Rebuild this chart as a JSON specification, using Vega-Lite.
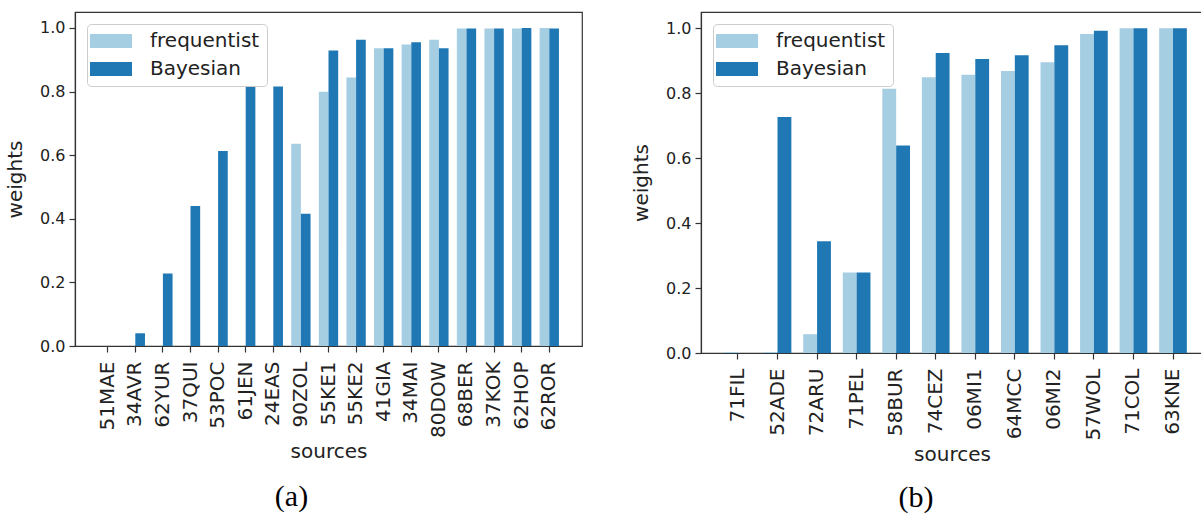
{
  "$schema": "https://vega.github.io/schema/vega-lite/v6.json",
  "background": "white",
  "padding": {"left": 4, "top": 11, "right": 0, "bottom": 0},
  "bounds": "flush",
  "spacing": 119,
  "config": {
    "view": {"stroke": "#333333", "strokeWidth": 1.2},
    "axis": {
      "domainColor": "#333333", "domainWidth": 1.2, "tickColor": "#333333", "tickWidth": 1.2,
      "labelColor": "#222222", "titleColor": "#222222",
      "labelFont": "DejaVu Sans", "titleFont": "DejaVu Sans", "titleFontWeight": "normal",
      "grid": false, "tickSize": 6
    },
    "legend": {"labelFont": "DejaVu Sans"},
    "title": {"font": "Liberation Serif", "fontWeight": "normal", "color": "#000000"}
  },
  "datasets": {
    "a": [
      {"source": "51MAE", "method": "frequentist", "weight": 0},
      {"source": "51MAE", "method": "Bayesian", "weight": 0},
      {"source": "34AVR", "method": "frequentist", "weight": 0},
      {"source": "34AVR", "method": "Bayesian", "weight": 0.04},
      {"source": "62YUR", "method": "frequentist", "weight": 0},
      {"source": "62YUR", "method": "Bayesian", "weight": 0.228},
      {"source": "37QUI", "method": "frequentist", "weight": 0},
      {"source": "37QUI", "method": "Bayesian", "weight": 0.44},
      {"source": "53POC", "method": "frequentist", "weight": 0},
      {"source": "53POC", "method": "Bayesian", "weight": 0.613},
      {"source": "61JEN", "method": "frequentist", "weight": 0},
      {"source": "61JEN", "method": "Bayesian", "weight": 0.814},
      {"source": "24EAS", "method": "frequentist", "weight": 0},
      {"source": "24EAS", "method": "Bayesian", "weight": 0.816},
      {"source": "90ZOL", "method": "frequentist", "weight": 0.636},
      {"source": "90ZOL", "method": "Bayesian", "weight": 0.416},
      {"source": "55KE1", "method": "frequentist", "weight": 0.799},
      {"source": "55KE1", "method": "Bayesian", "weight": 0.929},
      {"source": "55KE2", "method": "frequentist", "weight": 0.844},
      {"source": "55KE2", "method": "Bayesian", "weight": 0.963},
      {"source": "41GIA", "method": "frequentist", "weight": 0.936},
      {"source": "41GIA", "method": "Bayesian", "weight": 0.936},
      {"source": "34MAI", "method": "frequentist", "weight": 0.948},
      {"source": "34MAI", "method": "Bayesian", "weight": 0.955},
      {"source": "80DOW", "method": "frequentist", "weight": 0.963},
      {"source": "80DOW", "method": "Bayesian", "weight": 0.936},
      {"source": "68BER", "method": "frequentist", "weight": 0.998},
      {"source": "68BER", "method": "Bayesian", "weight": 0.998},
      {"source": "37KOK", "method": "frequentist", "weight": 0.998},
      {"source": "37KOK", "method": "Bayesian", "weight": 0.998},
      {"source": "62HOP", "method": "frequentist", "weight": 0.998},
      {"source": "62HOP", "method": "Bayesian", "weight": 1.0},
      {"source": "62ROR", "method": "frequentist", "weight": 1.0},
      {"source": "62ROR", "method": "Bayesian", "weight": 0.998}
    ],
    "b": [
      {"source": "71FIL", "method": "frequentist", "weight": 0.003},
      {"source": "71FIL", "method": "Bayesian", "weight": 0},
      {"source": "52ADE", "method": "frequentist", "weight": 0.003},
      {"source": "52ADE", "method": "Bayesian", "weight": 0.727},
      {"source": "72ARU", "method": "frequentist", "weight": 0.058},
      {"source": "72ARU", "method": "Bayesian", "weight": 0.344},
      {"source": "71PEL", "method": "frequentist", "weight": 0.248},
      {"source": "71PEL", "method": "Bayesian", "weight": 0.248},
      {"source": "58BUR", "method": "frequentist", "weight": 0.814},
      {"source": "58BUR", "method": "Bayesian", "weight": 0.639},
      {"source": "74CEZ", "method": "frequentist", "weight": 0.849},
      {"source": "74CEZ", "method": "Bayesian", "weight": 0.924},
      {"source": "06MI1", "method": "frequentist", "weight": 0.857},
      {"source": "06MI1", "method": "Bayesian", "weight": 0.905},
      {"source": "64MCC", "method": "frequentist", "weight": 0.868},
      {"source": "64MCC", "method": "Bayesian", "weight": 0.917},
      {"source": "06MI2", "method": "frequentist", "weight": 0.895},
      {"source": "06MI2", "method": "Bayesian", "weight": 0.948},
      {"source": "57WOL", "method": "frequentist", "weight": 0.982},
      {"source": "57WOL", "method": "Bayesian", "weight": 0.992},
      {"source": "71COL", "method": "frequentist", "weight": 1.0},
      {"source": "71COL", "method": "Bayesian", "weight": 1.0},
      {"source": "63KNE", "method": "frequentist", "weight": 1.0},
      {"source": "63KNE", "method": "Bayesian", "weight": 1.0}
    ]
  },
  "resolve": {
    "scale": {"x": "independent", "y": "independent", "xOffset": "independent", "color": "independent"},
    "legend": {"color": "independent"}
  },
  "hconcat": [
    {
      "width": 507,
      "height": 334,
      "data": {"name": "a"},
      "title": {"text": "(a)", "orient": "bottom", "anchor": "middle", "fontSize": 30, "dx": -37, "offset": 21},
      "mark": {"type": "bar"},
      "encoding": {
        "x": {
          "field": "source", "type": "nominal", "sort": null, "title": "sources",
          "scale": {"paddingInner": 0.3, "paddingOuter": 0.835},
          "axis": {"labelAngle": -90, "labelFontSize": 20, "labelPadding": 9, "titleFontSize": 20, "titlePadding": 4}
        },
        "xOffset": {"field": "method", "type": "nominal", "sort": ["frequentist", "Bayesian"], "scale": {"paddingInner": 0, "paddingOuter": 0}},
        "y": {
          "field": "weight", "type": "quantitative", "title": "weights",
          "scale": {"domain": [0, 1.05], "nice": false},
          "axis": {"values": [0, 0.2, 0.4, 0.6, 0.8, 1.0], "format": ".1f", "labelFontSize": 16, "labelPadding": 4, "titleFontSize": 20, "titlePadding": 14}
        },
        "color": {
          "field": "method", "type": "nominal", "sort": ["frequentist", "Bayesian"], "title": null,
          "scale": {"domain": ["frequentist", "Bayesian"], "range": ["#a6cee3", "#1f78b4"]},
          "legend": {
            "orient": "top-left", "offset": 12, "padding": 7, "labelFontSize": 20, "labelColor": "#222222",
            "symbolType": "M-2,-1H4V1H-2Z", "symbolSize": 196, "symbolStrokeWidth": 0,
            "labelOffset": 36, "rowPadding": 8,
            "fillColor": "white", "strokeColor": "#cccccc", "cornerRadius": 4
          }
        }
      }
    },
    {
      "width": 502,
      "height": 341,
      "data": {"name": "b"},
      "title": {"text": "(b)", "orient": "bottom", "anchor": "middle", "fontSize": 30, "dx": -36, "offset": 19},
      "mark": {"type": "bar"},
      "encoding": {
        "x": {
          "field": "source", "type": "nominal", "sort": null, "title": "sources",
          "scale": {"paddingInner": 0.3, "paddingOuter": 0.4965, "align": 0.589},
          "axis": {"labelAngle": -90, "labelFontSize": 20, "labelPadding": 9, "titleFontSize": 20, "titlePadding": 4}
        },
        "xOffset": {"field": "method", "type": "nominal", "sort": ["frequentist", "Bayesian"], "scale": {"paddingInner": 0, "paddingOuter": 0}},
        "y": {
          "field": "weight", "type": "quantitative", "title": "weights",
          "scale": {"domain": [0, 1.05], "nice": false},
          "axis": {"values": [0, 0.2, 0.4, 0.6, 0.8, 1.0], "format": ".1f", "labelFontSize": 16, "labelPadding": 4, "titleFontSize": 20, "titlePadding": 14}
        },
        "color": {
          "field": "method", "type": "nominal", "sort": ["frequentist", "Bayesian"], "title": null,
          "scale": {"domain": ["frequentist", "Bayesian"], "range": ["#a6cee3", "#1f78b4"]},
          "legend": {
            "orient": "top-left", "offset": 12, "padding": 7, "labelFontSize": 20, "labelColor": "#222222",
            "symbolType": "M-2,-1H4V1H-2Z", "symbolSize": 196, "symbolStrokeWidth": 0,
            "labelOffset": 36, "rowPadding": 8,
            "fillColor": "white", "strokeColor": "#cccccc", "cornerRadius": 4
          }
        }
      }
    }
  ]
}
